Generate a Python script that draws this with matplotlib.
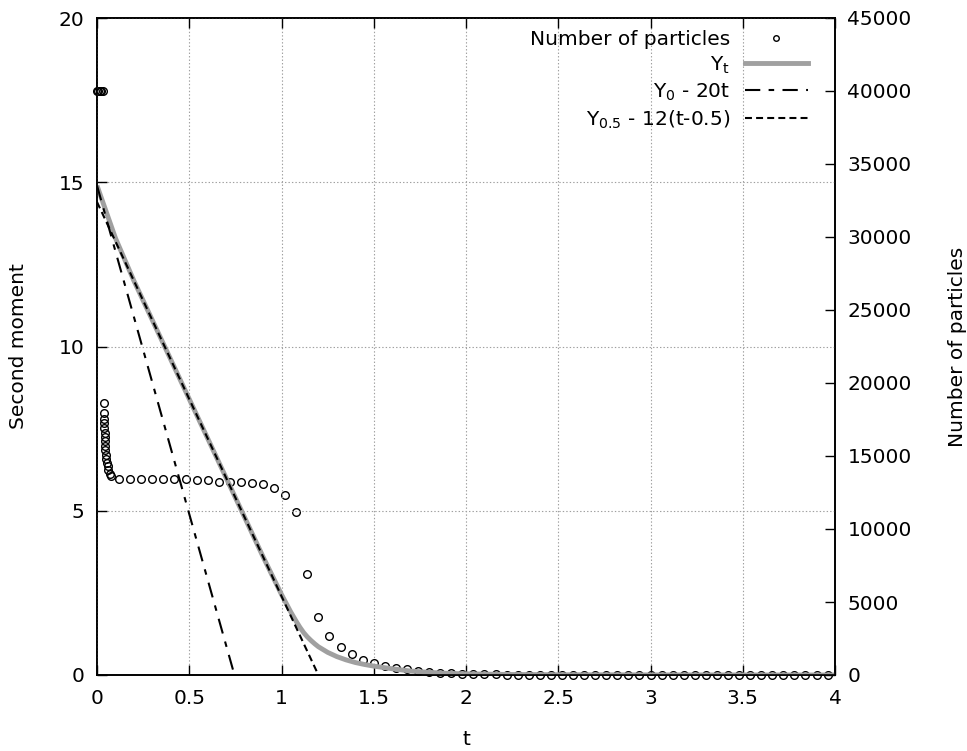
import matplotlib
matplotlib.use('Agg')
import matplotlib.pyplot as plt
from matplotlib.lines import Line2D

plt.rcParams['font.family'] = ['DejaVu Sans']
plt.rcParams['lines.scale_dashes'] = False

# particle counts (right axis)
t_part = [0.0, 0.008, 0.016, 0.024, 0.032,
          0.036, 0.037, 0.038, 0.039, 0.040, 0.041, 0.042, 0.043, 0.044, 0.046,
          0.048, 0.050, 0.053, 0.057, 0.062, 0.068, 0.075,
          0.12, 0.18, 0.24, 0.30, 0.36, 0.42, 0.48, 0.54, 0.60, 0.66, 0.72, 0.78,
          0.84, 0.90, 0.96, 1.02, 1.08, 1.14, 1.20, 1.26, 1.32, 1.38, 1.44, 1.50,
          1.56, 1.62, 1.68, 1.74, 1.80, 1.86, 1.92, 1.98, 2.04, 2.10, 2.16, 2.22,
          2.28, 2.34, 2.40, 2.46, 2.52, 2.58, 2.64, 2.70, 2.76, 2.82, 2.88, 2.94,
          3.00, 3.06, 3.12, 3.18, 3.24, 3.30, 3.36, 3.42, 3.48, 3.54, 3.60, 3.66,
          3.72, 3.78, 3.84, 3.90, 3.96]
n_part = [40000, 40000, 40000, 40000, 40000,
          18600, 17950, 17500, 17250, 16900, 16600, 16300, 16000, 15700, 15400,
          15100, 14800, 14550, 14300, 14050, 13800, 13600,
          13400, 13400, 13400, 13400, 13400, 13400, 13400, 13390, 13380, 13250, 13200, 13200,
          13120, 13050, 12800, 12330, 11150, 6950, 4000, 2700, 1900, 1430, 1050, 800,
          630, 500, 390, 280, 200, 150, 110, 80, 60, 45, 35, 30,
          25, 22, 20, 18, 16, 14, 12, 11, 10, 9, 8, 7,
          6, 5, 5, 4, 4, 3, 3, 3, 2, 2, 2, 1,
          1, 1, 1, 0, 0]

# second moment Y_t (left axis)
t_y = [0.0, 0.05, 0.1, 0.2, 0.3, 0.4, 0.5, 0.6, 0.7, 0.8, 0.9, 1.0, 1.05, 1.08,
       1.1, 1.12, 1.14, 1.16, 1.18, 1.2, 1.25, 1.3, 1.35, 1.4, 1.45, 1.5, 1.6, 1.7,
       1.8, 1.9, 2.0, 2.25, 2.5, 3.0, 3.5, 4.0]
y_t = [14.9, 14.1, 13.3, 12.0, 10.8, 9.6, 8.4, 7.2, 6.0, 4.8, 3.6, 2.45, 1.92, 1.63,
       1.45, 1.29, 1.16, 1.05, 0.95, 0.86, 0.69, 0.56, 0.46, 0.38, 0.32, 0.27, 0.19, 0.12,
       0.08, 0.05, 0.035, 0.015, 0.008, 0.003, 0.001, 0.0]

# reference lines
t_lin0 = [0.0, 0.745]
y_lin0 = [14.9, 0.0]
t_lin1 = [0.0, 1.2]
y_lin1 = [14.4, 0.0]

FS = 14.5
DASH0 = (11, 6, 4, 6)
DASH1 = (5, 3)
fig = plt.figure(figsize=(9.67, 7.51), dpi=100)
ax = fig.add_axes([97/967, 1 - 675/751, (835 - 97)/967, (675 - 18)/751])
ax2 = ax.twinx()
ax.set_zorder(ax2.get_zorder() + 1)
ax.patch.set_visible(False)

ax2.plot(t_part, n_part, 'o', mfc='none', mec='black', ms=5.5, mew=1.0, clip_on=False)
ax.plot(t_y, y_t, color='#a0a0a0', lw=3.5, solid_capstyle='butt', solid_joinstyle='round')
ax.plot(t_lin0, y_lin0, color='black', lw=1.5, dashes=DASH0)
ax.plot(t_lin1, y_lin1, color='black', lw=1.5, dashes=DASH1)

ax.set_xlim(0, 4)
ax.set_ylim(0, 20)
ax2.set_ylim(0, 45000)
ax.set_xticks([0, 0.5, 1, 1.5, 2, 2.5, 3, 3.5, 4])
ax.set_xticklabels(['0', '0.5', '1', '1.5', '2', '2.5', '3', '3.5', '4'])
ax.set_yticks([0, 5, 10, 15, 20])
ax2.set_yticks(range(0, 45001, 5000))

ax.grid(True, color='#a0a0a0', lw=0.8, dashes=(1, 1.5))
ax.tick_params(axis='x', direction='in', length=7, width=1, top=True, labelsize=FS, pad=10)
ax.tick_params(axis='y', direction='in', length=7, width=1, labelsize=FS, pad=9)
ax2.tick_params(axis='y', direction='in', length=7, width=1, labelsize=FS, pad=9)
for a in (ax, ax2):
    for s in a.spines.values():
        s.set_linewidth(1.2)

ax.set_xlabel('t', fontsize=FS, labelpad=16)
ax.set_ylabel('Second moment', fontsize=FS, labelpad=22)
ax2.set_ylabel('Number of particles', fontsize=FS, labelpad=26)

handles = [
    Line2D([], [], ls='none', marker='o', mfc='none', mec='black', ms=4, mew=1.0),
    Line2D([], [], color='#a0a0a0', lw=3.5),
    Line2D([], [], color='black', lw=1.5, dashes=DASH0),
    Line2D([], [], color='black', lw=1.5, dashes=DASH1),
]
labels = ['Number of particles', r'Y$_{\mathrm{t}}$', r'Y$_{\mathrm{0}}$ - 20t',
          r'Y$_{\mathrm{0.5}}$ - 12(t-0.5)']
ax.legend(handles, labels, loc='upper right', bbox_to_anchor=(0.963, 0.982),
          frameon=False, markerfirst=False, fontsize=FS, handlelength=3.1,
          handletextpad=0.75, labelspacing=0.28, borderpad=0, borderaxespad=0)

fig.savefig('out.png', dpi=100)
